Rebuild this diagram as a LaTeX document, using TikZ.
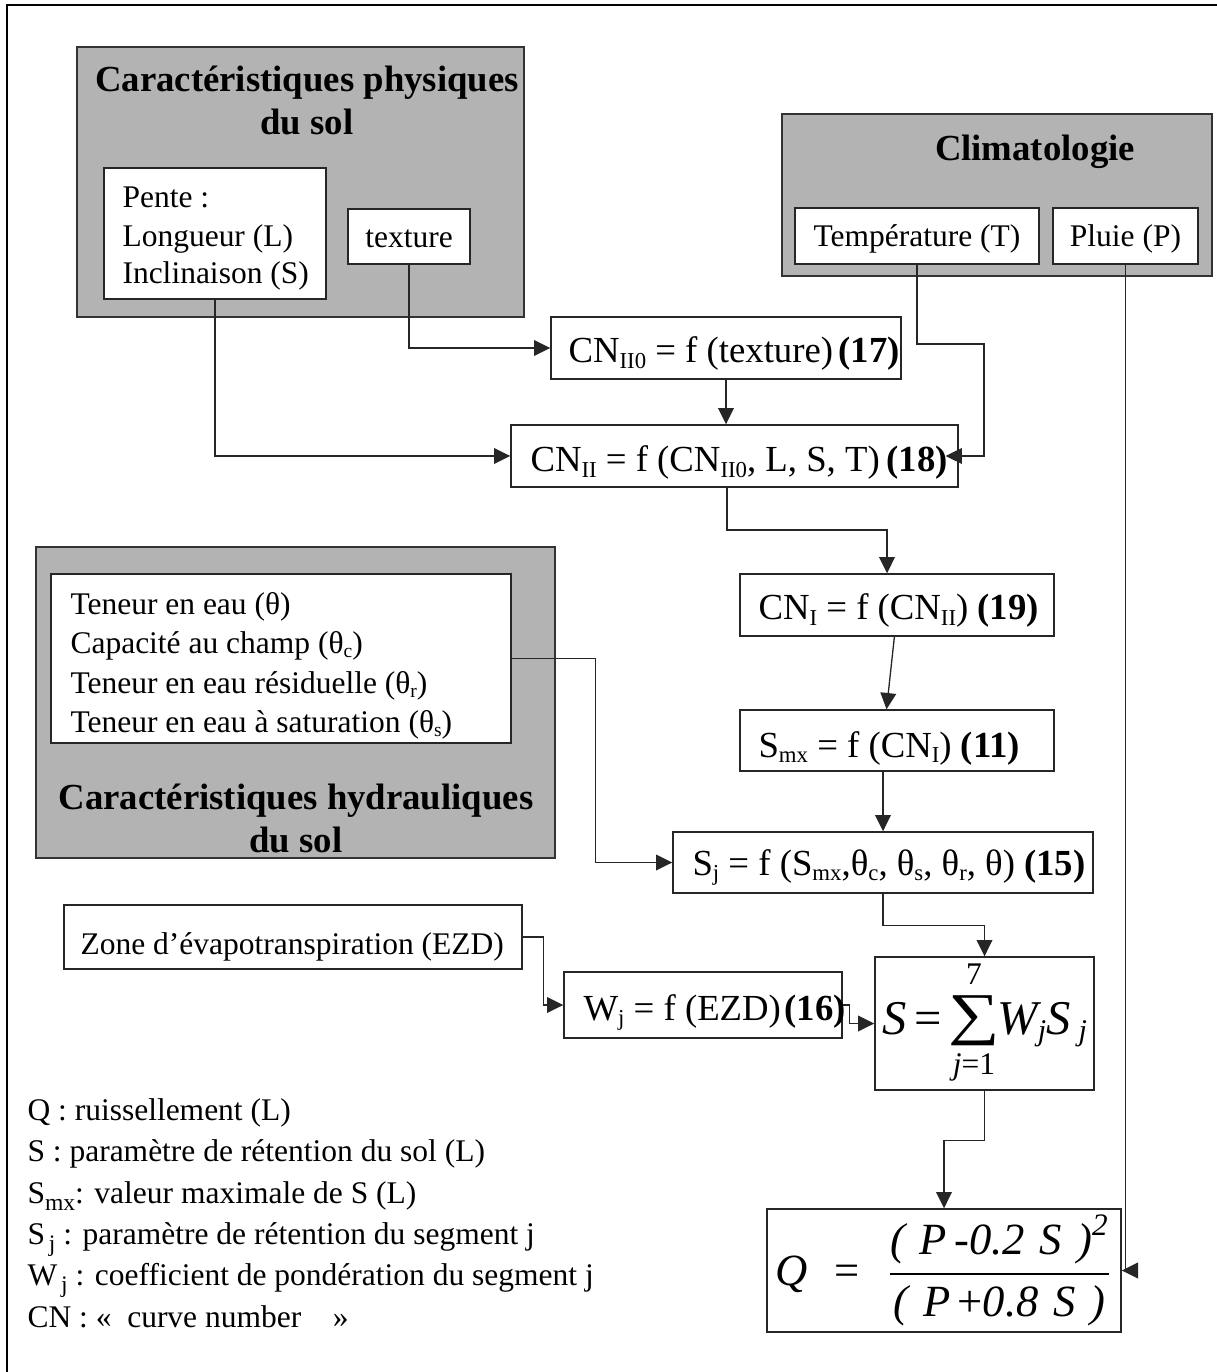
\documentclass[tikz,border=0pt]{standalone}
\usepackage{fontspec}
\usepackage{amsmath}
\usepackage{graphicx}
\setmainfont{Liberation Serif}
\usetikzlibrary{arrows.meta,fit}
\definecolor{boxgray}{RGB}{179,179,179}
\newcommand\fsbody{\fontsize{12}{14}\selectfont}
\newcommand\fseq{\fontsize{14}{16}\selectfont}
\newcommand\fstitle{\fontsize{14}{16}\selectfont\bfseries}
\newcommand\fsform{\fontsize{17}{19}\selectfont}
\newcommand\fssum{\fontsize{18.5}{20}\selectfont}
\newcommand\sbx[1]{\raisebox{-0.3ex}{\scalebox{0.62}{#1}}}
\newcommand\sbl[1]{\raisebox{-0.55ex}{\scalebox{0.75}{#1}}}
\tikzset{
  panel/.style={draw=black!80, fill=boxgray, line width=0.6pt, inner sep=0pt},
  wbox/.style={draw=black!85, fill=white, line width=0.55pt, inner sep=0pt},
  conn/.style={draw=black!85, line width=0.5pt},
  arr/.style={conn, -{Triangle[length=6.2pt,width=6pt]}},
  txt/.style={inner sep=0pt, anchor=base west, font=\fsbody},
  ctxt/.style={inner sep=0pt, anchor=base, font=\fsbody},
  ttl/.style={inner sep=0pt, anchor=base, font=\fstitle},
  eq/.style={inner sep=0pt, anchor=base west, font=\fseq},
  frm/.style={inner sep=0pt, anchor=base west, font=\fssum},
}
\begin{document}
\begin{tikzpicture}[x=0.381pt,y=-0.381pt]
\useasboundingbox (0,0) rectangle (1216,1372);
% outer frame (cut at right and bottom)
\draw[line width=0.75pt] (7,1380) -- (7,5) -- (1230,5);

% grey panels
\node[panel, fit={(77,47) (524,317)}] (phys) {};
\node[panel, fit={(782,114) (1212,276)}] (clim) {};
\node[panel, fit={(36,547) (555,858)}] (hydr) {};

% titles
\node[ttl] (physT1) at (307,92) {Caractéristiques physiques};
\node[ttl] (physT2) at (307,135) {du sol};
\node[ttl] (climT) at (1035,161) {Climatologie};
\node[ttl] (hydrT1) at (296,809) {Caractéristiques hydrauliques};
\node[ttl] (hydrT2) at (296,852) {du sol};

% white boxes
\node[wbox, fit={(104,168) (326,299)}] (pente) {};
\node[wbox, fit={(348,209) (470,264)}] (texture) {};
\node[wbox, fit={(795,208) (1039,264)}] (temp) {};
\node[wbox, fit={(1053,208) (1198,264)}] (pluie) {};
\node[wbox, fit={(551,317) (901,379)}] (cnii0) {};
\node[wbox, fit={(511,425) (958,487)}] (cnii) {};
\node[wbox, fit={(740,574) (1054,636)}] (cni) {};
\node[wbox, fit={(740,710) (1054,771)}] (smx) {};
\node[wbox, fit={(51,574) (511,743)}] (hydin) {};
\node[wbox, fit={(673,832) (1093,893)}] (sj) {};
\node[wbox, fit={(64,905) (522,969)}] (zone) {};
\node[wbox, fit={(564,972) (842,1038)}] (wj) {};
\node[wbox, fit={(875,957) (1094,1090)}] (sum) {};
\node[wbox, fit={(767,1209) (1121,1332)}] (q) {};

% texts in boxes
\node[txt] (pe1) at (122,208) {Pente :};
\node[txt] (pe2) at (122,247) {Longueur (L)};
\node[txt] (pe3) at (122,284) {Inclinaison (S)};
\node[ctxt] (textureT) at (409,248) {texture};
\node[ctxt] (tempT) at (917,247) {Température (T)};
\node[ctxt] (pluieT) at (1125.5,247) {Pluie (P)};

\node[txt] (hy1) at (70,614) {Teneur en eau (θ)};
\node[txt] (hy2) at (70,653) {Capacité au champ (θ\sbx{c})};
\node[txt] (hy3) at (70,693) {Teneur en eau résiduelle (θ\sbx{r})};
\node[txt] (hy4) at (70,732) {Teneur en eau à saturation (θ\sbx{s})};

\node[txt] (zoneT) at (80,954) {Zone d’évapotranspiration (EZD)};

\node[eq] (cnii0T) at (568,363) {CN\sbx{II0} = f (texture)\hspace{0.15em}\textbf{(17)}};
\node[eq] (cniiT) at (530,472) {CN\sbx{II} = f (CN\sbx{II0}, L, S, T)\hspace{0.18em}\textbf{(18)}};
\node[eq] (cniT) at (758,620) {CN\sbx{I} = f (CN\sbx{II}) \textbf{(19)}};
\node[eq] (smxT) at (758,757) {S\sbx{mx} = f (CN\sbx{I}) \textbf{(11)}};
\node[eq] (sjT) at (692,875) {S\sbx{j} = f (S\sbx{mx},θ\sbx{c}, θ\sbx{s}, θ\sbx{r}, θ) \textbf{(15)}};
\node[eq] (wjT) at (583,1020) {W\sbx{j} = f (EZD)\hspace{0.1em}\textbf{(16)}};

% sum formula
\node[frm] (sumS) at (882,1034) {\itshape S};
\node[frm] (sumEq) at (914,1034) {=};
\node[inner sep=0pt, font=\fontsize{22}{22}\selectfont] (sumSig) at (974,1021) {\scalebox{1.25}[1]{∑}};
\node[inner sep=0pt, anchor=base, font=\fontsize{12}{12}\selectfont] (sumUp) at (974,984) {7};
\node[inner sep=0pt, anchor=base, font=\fontsize{12}{12}\selectfont] (sumLo) at (974,1074) {\itshape j\upshape =1};
\node[frm] (sumW) at (997,1034) {\itshape W\sbx{j}S\,\sbx{j}};

% runoff formula
\node[inner sep=0pt, font=\fsform] (qT) at (q.center)
  {$\text{\itshape Q}\hspace{0.6em}\text{=}\hspace{0.6em}\dfrac{\text{\itshape (\,\,P\,-0.2\,\,S\,\,)}^{\text{\itshape 2}}}{\text{\itshape (\,\,P\,}\text{+}\text{\itshape 0.8\,\,S\,\,)}}$};

% legend
\node[txt] (lg1) at (27,1120) {Q : ruissellement (L)};
\node[txt] (lg2) at (27,1161) {S : paramètre de rétention du sol (L)};
\node[txt] (lg3) at (27,1203) {S\sbl{mx}: valeur maximale de S (L)};
\node[txt] (lg4) at (27,1244) {S\sbl{\,j} : paramètre de rétention du segment j};
\node[txt] (lg5) at (27,1285) {W\sbl{\,j} : coefficient de pondération du segment j};
\node[txt] (lg6) at (27,1327) {CN : «\hspace{6pt}curve number\hspace{12pt}»};

% connectors
\coordinate (tk) at (984,344);
\coordinate (ck) at (800,530);
\draw[arr] (texture.south) |- (cnii0.west);
\draw[arr] (pente.south) |- (cnii.west);
\draw[arr] (cnii0.south) -- (cnii0.south |- cnii.north);
\draw[arr] (temp.south) |- (tk) |- ([xshift=-5pt]cnii.east);
\draw[arr] ([xshift=-2.9pt]cnii.south) |- (ck) -| ([xshift=-3.8pt]cni.north);
\draw[arr] ([xshift=-1pt]cni.south) -- ([xshift=-4pt]smx.north);
\draw[arr] (sj.north |- smx.south) -- (sj.north);
\draw[arr] (hydin.east) -- ++(84,0) |- (sj.west);
\draw[arr] (sj.south) -- ++(0,32) -| (sum.north);
\draw[arr] (zone.east) -- ++(21,0) |- (wj.west);
\draw[arr] (wj.east) -- ++(7,0) |- (sum.west);
\draw[arr] (sum.south) -- ++(0,50) -| (q.north);
\draw[arr] (pluie.south) |- (q.east);
\end{tikzpicture}
\end{document}
